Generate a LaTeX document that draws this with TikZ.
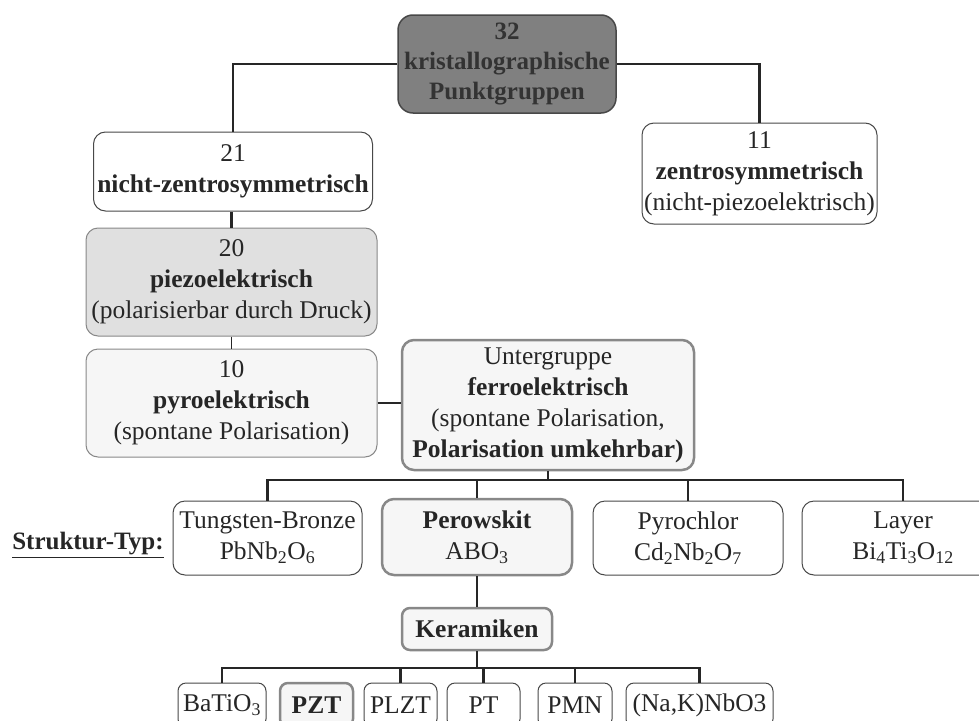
\documentclass[tikz,border=0pt]{standalone}
\usepackage{fontspec}
\setmainfont{Liberation Serif}
\usetikzlibrary{positioning}
\definecolor{boxdark}{RGB}{128,128,128}
\definecolor{boxmid}{RGB}{224,224,224}
\definecolor{boxlight}{RGB}{246,246,246}
\definecolor{edgedark}{RGB}{72,72,72}
\definecolor{edgegray}{RGB}{136,136,136}
\definecolor{txtgray}{RGB}{38,38,38}

\tikzset{
  grp/.style={draw=edgedark, line width=1pt, rounded corners=12pt, fill=white,
    align=center, inner sep=0pt, text=txtgray, font=\fontsize{25.5}{31}\selectfont},
  hilite/.style={grp, draw=edgegray, line width=2.5pt, fill=boxlight},
  small/.style={grp, rounded corners=8pt, minimum width=73pt, minimum height=44pt},
  link/.style={draw=txtgray, line width=2.3pt},
}

\begin{document}
\begin{tikzpicture}[x=1pt, y=-1pt]
  \useasboundingbox (0,0) rectangle (979,720);
  % --- Punktgruppen
  \node[grp, fill=boxdark, line width=1.5pt, rounded corners=15pt, text=black!80,
    font=\fontsize{25}{30}\selectfont,
    minimum width=218pt, minimum height=98pt] (kpg) at (507,64)
    {\textbf{32}\\\textbf{kristallographische}\\\textbf{Punktgruppen}};
  \node[grp, minimum width=279pt, minimum height=79pt] (nzs) at (233,171.5)
    {21\\\textbf{nicht-zentrosymmetrisch}};
  \node[grp, minimum width=235pt, minimum height=101pt] (zs) at (759.5,173.5)
    {11\\\textbf{zentrosymmetrisch}\\(nicht-piezoelektrisch)};
  \node[grp, fill=boxmid, draw=edgegray, minimum width=291pt, minimum height=108pt] (piezo) at (231.5,282)
    {20\\\textbf{piezoelektrisch}\\(polarisierbar durch Druck)};
  \node[grp, fill=boxlight, draw=edgegray, minimum width=291pt, minimum height=108pt] (pyro) at (231.5,403)
    {10\\\textbf{pyroelektrisch}\\(spontane Polarisation)};
  \node[hilite, minimum width=292pt, minimum height=130pt] (ferro) at (548,405)
    {Untergruppe\\\textbf{ferroelektrisch}\\(spontane Polarisation,\\\textbf{Polarisation umkehrbar)}};
  % --- Struktur-Typ
  \node[text=txtgray, font=\fontsize{25}{30}\selectfont\bfseries] (styp) at (88,545) {\underline{Struktur-Typ:}};
  \node[grp, minimum width=189pt, minimum height=74pt] (tung) at (267.5,538)
    {Tungsten-Bronze\\PbNb\textsubscript{2}O\textsubscript{6}};
  \node[hilite, minimum width=190pt, minimum height=76pt] (perow) at (477,537)
    {\textbf{Perowskit}\\ABO\textsubscript{3}};
  \node[grp, minimum width=190pt, minimum height=74pt] (pyrochl) at (688,538)
    {Pyrochlor\\Cd\textsubscript{2}Nb\textsubscript{2}O\textsubscript{7}};
  \node[grp, minimum width=202pt, minimum height=74pt] (layer) at (903,538)
    {Layer\\Bi\textsubscript{4}Ti\textsubscript{3}O\textsubscript{12}};
  % --- Keramiken
  \node[hilite, rounded corners=8pt, minimum width=150pt, minimum height=42pt] (keram) at (477,629)
    {\textbf{Keramiken}};
  \node[small, minimum width=88pt] (bati) at (222,705) {BaTiO\textsubscript{3}};
  \node[small, hilite, rounded corners=8pt, minimum height=44pt] (pzt) at (316.5,705) {\textbf{PZT}};
  \node[small] (plzt) at (400.5,705) {PLZT};
  \node[small] (pt) at (483.5,705) {PT};
  \node[small, minimum width=74pt] (pmn) at (575,705) {PMN};
  \node[small, minimum width=147pt] (nak) at (699.5,705) {(Na,K)NbO3};
  % --- connectors
  \coordinate (bus) at (0,480);
  \coordinate (kbus) at (0,668);
  \draw[link] (kpg.west) -| (nzs.north);
  \draw[link] (kpg.east) -| (zs.north);
  \draw[link] (piezo.north) -- (piezo.north |- nzs.south);
  \draw[link, line width=1.6pt] (piezo.south) -- (pyro.north);
  \draw[link, line width=1.6pt] (pyro.east) -- (pyro.east -| ferro.west);
  \draw[link] (tung.north) |- (layer.north |- bus) -- (layer.north);
  \draw[link] (ferro.south) -- (ferro.south |- bus);
  \draw[link] (perow.north) -- (perow.north |- bus);
  \draw[link, line width=1.6pt] (pyrochl.north) -- (pyrochl.north |- bus);
  \draw[link] (perow.south) -- (keram.north);
  \draw[link] (bati.north) |- (nak.north |- kbus) -- (nak.north);
  \draw[link] (keram.south) -- (keram.south |- kbus);
  \draw[link] (plzt.north) -- (plzt.north |- kbus);
  \draw[link] (pt.north) -- (pt.north |- kbus);
  \draw[link] (pmn.north) -- (pmn.north |- kbus);
\end{tikzpicture}
\end{document}
